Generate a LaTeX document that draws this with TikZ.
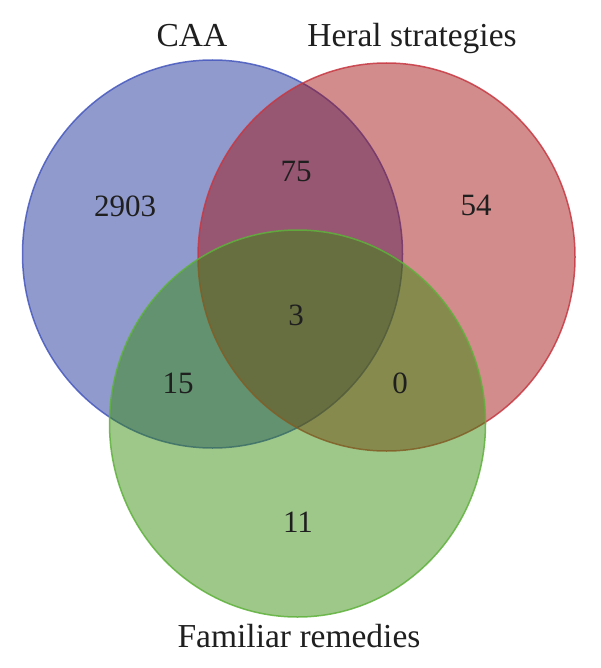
\documentclass[tikz,border=0pt]{standalone}
\usepackage{fontspec}
\setmainfont{Liberation Serif}
\definecolor{cblue}{RGB}{20,42,150}
\definecolor{cred}{RGB}{160,12,12}
\definecolor{cgreen}{RGB}{50,138,8}
\definecolor{lblue}{RGB}{70,88,190}
\definecolor{lred}{RGB}{200,55,65}
\definecolor{lgreen}{RGB}{95,178,60}
\tikzset{
  setshape/.style={fill opacity=0.47, draw opacity=0.85, line width=1.5pt},
  lab/.style={font=\fontsize{33.5}{40}\selectfont, inner sep=0pt, anchor=base, text=black!88},
  num/.style={font=\fontsize{31}{37}\selectfont, inner sep=0pt, anchor=center, text=black!88}
}
\begin{document}
\begin{tikzpicture}[x=1pt,y=-1pt]
\useasboundingbox (0,0) rectangle (600,668);
\fill[white] (0,0) rectangle (600,668);
\draw[setshape, fill=cblue, draw=lblue] (212.5,254) ellipse [x radius=190, y radius=194];
\draw[setshape, fill=cred, draw=lred] (386.5,257) ellipse [x radius=188.5, y radius=194];
\draw[setshape, fill=cgreen, draw=lgreen] (297.5,423.5) ellipse [x radius=188, y radius=193.5];
\node[lab] (caa) at (192,47) {CAA};
\node[lab] (heral) at (412,47) {Heral strategies};
\node[lab] (fam) at (299,647) {Familiar remedies};
\node[num] (n2903) at (125,206) {2903};
\node[num] (n75) at (296,172) {75};
\node[num] (n54) at (476,205) {54};
\node[num] (n3) at (296,315) {3};
\node[num] (n15) at (178,383) {15};
\node[num] (n0) at (400,383) {0};
\node[num] (n11) at (298,522) {11};
\end{tikzpicture}
\end{document}
